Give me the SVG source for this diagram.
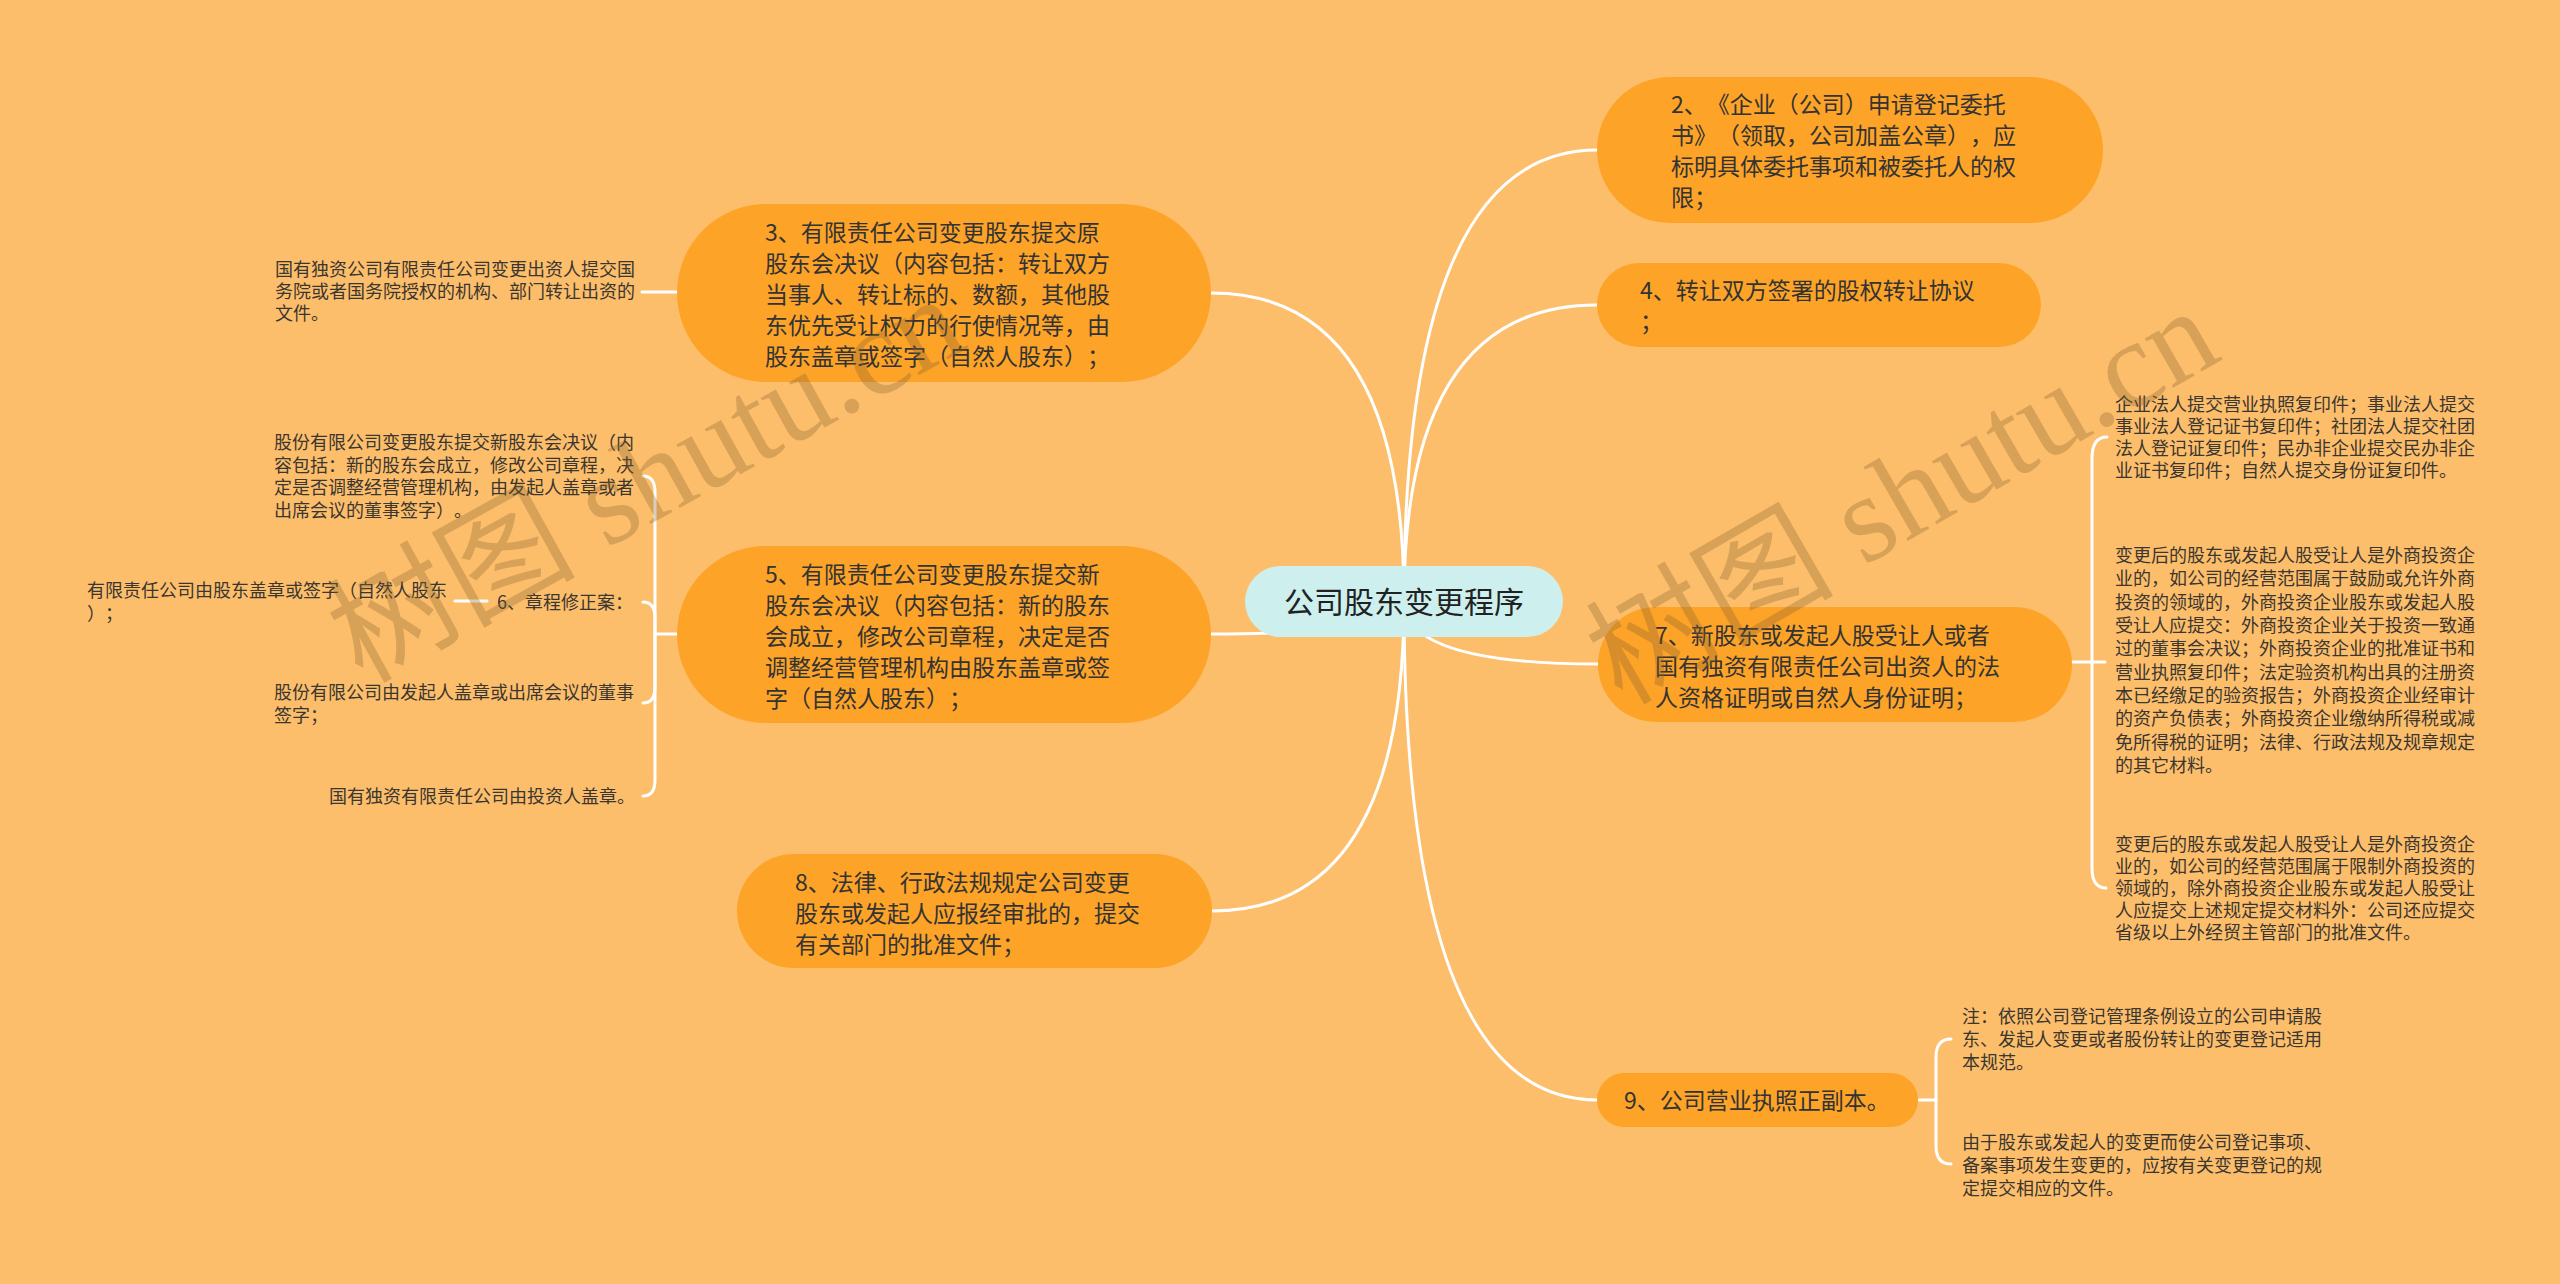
<svg xmlns="http://www.w3.org/2000/svg" width="2560" height="1284" viewBox="0 0 2560 1284">
<style>
text{text-spacing-trim:space-all}
.bg{fill:#fdbe6b}
.nb{fill:#fda327}
.cb{fill:#cdf0ee}
.nt{font-family:"Noto Sans CJK SC","Noto Sans",sans-serif;font-size:23px;fill:#333333}
.ct{font-family:"Noto Sans CJK SC","Noto Sans",sans-serif;font-size:30px;fill:#222222}
.lt{font-family:"Noto Sans CJK SC","Noto Sans",sans-serif;font-size:18px;fill:#3a3630}
.cn{fill:none;stroke:#ffffff;stroke-width:3;stroke-linecap:round}
.wm{font-family:"Liberation Serif","Noto Sans CJK SC",serif;font-size:124px;fill:#8a6232;fill-opacity:0.32}
</style>
<rect class="bg" x="0" y="0" width="2560" height="1284"/>
<g id="connectors">
<path class="cn" d="M1404 601 Q1404 150 1597 150"/>
<path class="cn" d="M1404 601 Q1404 305 1597 305"/>
<path class="cn" d="M1404 601 Q1404 664 1598 664"/>
<path class="cn" d="M1404 601 Q1404 1100 1597 1100"/>
<path class="cn" d="M1404 601 Q1404 293 1211 293"/>
<path class="cn" d="M1404 601 Q1404 634 1211 634"/>
<path class="cn" d="M1404 601 Q1404 911 1212 911"/>
<path class="cn" d="M677 292 H642"/>
<path class="cn" d="M677 634 H655"/>
<path class="cn" d="M655 634 V492 Q655 476 643 476"/>
<path class="cn" d="M655 634 V618 Q655 602 643 602"/>
<path class="cn" d="M655 634 V687 Q655 703 643 703"/>
<path class="cn" d="M655 634 V780 Q655 796 643 796"/>
<path class="cn" d="M487 601 H455"/>
<path class="cn" d="M2072 662 H2105"/>
<path class="cn" d="M2092 662 V458 Q2092 437 2107 437"/>
<path class="cn" d="M2092 662 V868 Q2092 888 2106 888"/>
<path class="cn" d="M1918 1100 H1936"/>
<path class="cn" d="M1936 1100 V1057 Q1936 1039 1951 1039"/>
<path class="cn" d="M1936 1100 V1146 Q1936 1164 1951 1164"/>
</g>
<g id="center">
<rect class="cb" x="1245" y="566" width="318" height="71" rx="35.5"/>
<text class="ct" x="1404" y="613" text-anchor="middle">公司股东变更程序</text>
</g>
<g id="n2">
<rect class="nb" x="1597" y="77" width="506" height="146" rx="73"/>
<text class="nt"><tspan x="1671" y="113">2、《企业（公司）申请登记委托</tspan><tspan x="1671" y="144">书》（领取，公司加盖公章），应</tspan><tspan x="1671" y="175">标明具体委托事项和被委托人的权</tspan><tspan x="1671" y="206">限；</tspan></text>
</g>
<g id="n4">
<rect class="nb" x="1597" y="263" width="444" height="84" rx="42"/>
<text class="nt"><tspan x="1640" y="299">4、转让双方签署的股权转让协议</tspan><tspan x="1640" y="330">；</tspan></text>
</g>
<g id="n7">
<rect class="nb" x="1598" y="607" width="474" height="115" rx="57.5"/>
<text class="nt"><tspan x="1655" y="644">7、新股东或发起人股受让人或者</tspan><tspan x="1655" y="675">国有独资有限责任公司出资人的法</tspan><tspan x="1655" y="706">人资格证明或自然人身份证明；</tspan></text>
</g>
<g id="n9">
<rect class="nb" x="1597" y="1073" width="321" height="54" rx="27"/>
<text class="nt" x="1624" y="1109">9、公司营业执照正副本。</text>
</g>
<g id="n3">
<rect class="nb" x="677" y="204" width="534" height="178" rx="89"/>
<text class="nt"><tspan x="765" y="241">3、有限责任公司变更股东提交原</tspan><tspan x="765" y="272">股东会决议（内容包括：转让双方</tspan><tspan x="765" y="303">当事人、转让标的、数额，其他股</tspan><tspan x="765" y="334">东优先受让权力的行使情况等，由</tspan><tspan x="765" y="365">股东盖章或签字（自然人股东）；</tspan></text>
</g>
<g id="n5">
<rect class="nb" x="677" y="546" width="534" height="177" rx="88.5"/>
<text class="nt"><tspan x="765" y="583">5、有限责任公司变更股东提交新</tspan><tspan x="765" y="614">股东会决议（内容包括：新的股东</tspan><tspan x="765" y="645">会成立，修改公司章程，决定是否</tspan><tspan x="765" y="676">调整经营管理机构由股东盖章或签</tspan><tspan x="765" y="707">字（自然人股东）；</tspan></text>
</g>
<g id="n8">
<rect class="nb" x="737" y="854" width="475" height="114" rx="57"/>
<text class="nt"><tspan x="795" y="891">8、法律、行政法规规定公司变更</tspan><tspan x="795" y="922">股东或发起人应报经审批的，提交</tspan><tspan x="795" y="953">有关部门的批准文件；</tspan></text>
</g>
<g id="l1">
<text class="lt"><tspan x="275" y="276">国有独资公司有限责任公司变更出资人提交国</tspan><tspan x="275" y="298">务院或者国务院授权的机构、部门转让出资的</tspan><tspan x="275" y="320">文件。</tspan></text>
</g>
<g id="l2">
<text class="lt"><tspan x="274" y="449">股份有限公司变更股东提交新股东会决议（内</tspan><tspan x="274" y="472">容包括：新的股东会成立，修改公司章程，决</tspan><tspan x="274" y="494">定是否调整经营管理机构，由发起人盖章或者</tspan><tspan x="274" y="517">出席会议的董事签字）。</tspan></text>
</g>
<g id="l6">
<text class="lt" x="497" y="609">6、章程修正案：</text>
</g>
<g id="l3">
<text class="lt"><tspan x="87" y="597">有限责任公司由股东盖章或签字（自然人股东</tspan><tspan x="87" y="620">）；</tspan></text>
</g>
<g id="l4">
<text class="lt"><tspan x="274" y="699">股份有限公司由发起人盖章或出席会议的董事</tspan><tspan x="274" y="722">签字；</tspan></text>
</g>
<g id="l5">
<text class="lt" x="329" y="803">国有独资有限责任公司由投资人盖章。</text>
</g>
<g id="r1">
<text class="lt"><tspan x="2115" y="411">企业法人提交营业执照复印件；事业法人提交</tspan><tspan x="2115" y="433">事业法人登记证书复印件；社团法人提交社团</tspan><tspan x="2115" y="455">法人登记证复印件；民办非企业提交民办非企</tspan><tspan x="2115" y="477">业证书复印件；自然人提交身份证复印件。</tspan></text>
</g>
<g id="r2">
<text class="lt"><tspan x="2115" y="562">变更后的股东或发起人股受让人是外商投资企</tspan><tspan x="2115" y="585">业的，如公司的经营范围属于鼓励或允许外商</tspan><tspan x="2115" y="609">投资的领域的，外商投资企业股东或发起人股</tspan><tspan x="2115" y="632">受让人应提交：外商投资企业关于投资一致通</tspan><tspan x="2115" y="655">过的董事会决议；外商投资企业的批准证书和</tspan><tspan x="2115" y="679">营业执照复印件；法定验资机构出具的注册资</tspan><tspan x="2115" y="702">本已经缴足的验资报告；外商投资企业经审计</tspan><tspan x="2115" y="725">的资产负债表；外商投资企业缴纳所得税或减</tspan><tspan x="2115" y="749">免所得税的证明；法律、行政法规及规章规定</tspan><tspan x="2115" y="772">的其它材料。</tspan></text>
</g>
<g id="r3">
<text class="lt"><tspan x="2115" y="851">变更后的股东或发起人股受让人是外商投资企</tspan><tspan x="2115" y="873">业的，如公司的经营范围属于限制外商投资的</tspan><tspan x="2115" y="895">领域的，除外商投资企业股东或发起人股受让</tspan><tspan x="2115" y="917">人应提交上述规定提交材料外：公司还应提交</tspan><tspan x="2115" y="939">省级以上外经贸主管部门的批准文件。</tspan></text>
</g>
<g id="r9a">
<text class="lt"><tspan x="1962" y="1023">注：依照公司登记管理条例设立的公司申请股</tspan><tspan x="1962" y="1046">东、发起人变更或者股份转让的变更登记适用</tspan><tspan x="1962" y="1069">本规范。</tspan></text>
</g>
<g id="r9b">
<text class="lt"><tspan x="1962" y="1149">由于股东或发起人的变更而使公司登记事项、</tspan><tspan x="1962" y="1172">备案事项发生变更的，应按有关变更登记的规</tspan><tspan x="1962" y="1195">定提交相应的文件。</tspan></text>
</g>
<g id="watermarks">
<text class="wm" x="362" y="684" transform="rotate(-29 362 684)">树图 shutu.cn</text>
<text class="wm" x="1622" y="706" transform="rotate(-30 1622 706)">树图 shutu.cn</text>
</g>
</svg>
